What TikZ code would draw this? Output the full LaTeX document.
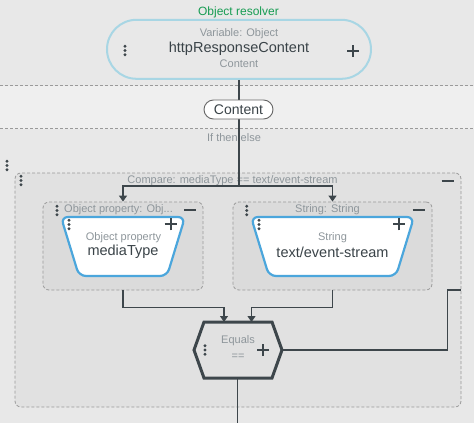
\documentclass[tikz,border=0pt]{standalone}
\usepackage{fontspec}
\setmainfont{Liberation Sans}
\usetikzlibrary{arrows.meta,shapes.misc}
\definecolor{bgmain}{HTML}{E8E8E8}
\definecolor{bgband}{HTML}{EFEFEF}
\definecolor{bgouter}{HTML}{E1E1E1}
\definecolor{bginner}{HTML}{DBDBDB}
\definecolor{txtgray}{HTML}{8E969B}
\definecolor{txtdark}{HTML}{3A4348}
\definecolor{linedark}{HTML}{3D464B}
\definecolor{resgreen}{HTML}{169C52}
\definecolor{pillblue}{HTML}{A8D6E4}
\definecolor{trapblue}{HTML}{4BA6DC}
\definecolor{dashgray}{HTML}{9A9A9A}
\tikzset{
  small/.style={font=\fontsize{11}{13}\selectfont, text=txtgray, inner sep=0pt},
  big/.style={font=\fontsize{14.5}{17}\selectfont, text=txtdark, inner sep=0pt},
  dashbox/.style={draw=dashgray, dash pattern=on 3pt off 2pt, line width=0.8pt, rounded corners=6pt},
  conn/.style={draw=linedark, line width=1.1pt},
  arr/.style={conn, -{Triangle[width=8pt,length=6pt]}},
  vdots/.pic={\fill[linedark] (0,-4.3pt) circle (1.6pt) (0,0) circle (1.6pt) (0,4.3pt) circle (1.6pt);},
  plussign/.pic={\draw[linedark, line width=2pt] (-6pt,0) -- (6pt,0) (0,-6pt) -- (0,6pt);},
  minussign/.pic={\draw[linedark, line width=2pt] (-6pt,0) -- (6pt,0);},
}
\begin{document}
\begin{tikzpicture}[x=1pt,y=-1pt]
\useasboundingbox (0,0) rectangle (474,423);
% backgrounds
\fill[bgmain] (0,0) rectangle (474,423);
\fill[bgband] (0,85.5) rectangle (474,128.5);
\draw[dashgray, dash pattern=on 3pt off 2pt, line width=0.8pt] (0,85.5) -- (474,85.5);
\draw[dashgray, dash pattern=on 3pt off 2pt, line width=0.8pt] (0,128.5) -- (474,128.5);

% outer compare box
\node[dashbox, fill=bgouter, minimum width=446pt, minimum height=234pt, inner sep=0pt] (outer) at (238,290) {};
\pic at (7,165.5) {vdots};
\pic at (21,180.5) {vdots};
\pic at (447.5,181) {minussign};
\node[small] (cmp) at (232.5,181) {Compare: mediaType == text/event-stream};

% inner boxes
\node[dashbox, fill=bginner, minimum width=160pt, minimum height=88pt, inner sep=0pt] (lbox) at (123,246) {};
\node[dashbox, fill=bginner, minimum width=199pt, minimum height=88pt, inner sep=0pt] (rbox) at (332.5,246) {};
\node[small, anchor=west] (ltitle) at (64,210) {Object property: Obj...};
\node[small] (rtitle) at (327.5,210) {String: String};
\pic at (57,210.5) {vdots};
\pic at (190,210) {minussign};
\pic at (246.7,210.5) {vdots};
\pic at (418.5,210) {minussign};

% trapezoids
\draw[trapblue, fill=white, line width=2.2pt, rounded corners=7pt] (61,217) -- (185,217) -- (167,276) -- (79,276) -- cycle;
\draw[trapblue, fill=white, line width=2.2pt, rounded corners=7pt] (251,217) -- (414,217) -- (396,276) -- (269,276) -- cycle;
\coordinate (ltrap) at (123,246);
\coordinate (rtrap) at (332.5,246);
\pic at (69,224.5) {vdots};
\pic at (170.7,224.3) {plussign};
\pic at (259,224.5) {vdots};
\pic at (399,224.3) {plussign};
\node[small] (lt1) at (123.5,237.3) {Object property};
\node[big] (lt2) at (123,252) {mediaType};
\node[small] (rt1) at (332.5,237.3) {String};
\node[big] (rt2) at (332.5,252) {text/event-stream};

% resolver pill
\node[small, text=resgreen, font=\fontsize{12}{14}\selectfont] (reslabel) at (238.5,12) {Object resolver};
\node[draw=pillblue, line width=2pt, fill=bgmain, rounded rectangle, minimum width=264pt, minimum height=59pt, inner sep=0pt] (res) at (239,49.3) {};
\node[small] (r1) at (239,34) {Variable: Object};
\node[big] (r2) at (239,49) {httpResponseContent};
\node[small] (r3) at (239,64) {Content};
\pic at (125,50.5) {vdots};
\pic at (353.3,50.7) {plussign};

% If then else
\node[small] (ite) at (234,137.5) {If then else};

% connectors from resolver
\coordinate (split) at (239,186);
\draw[conn] (res.south) -- (split);
\draw[arr] (split) -| (lbox.north);
\draw[arr] (split) -| (rbox.north);

% content pill
\node[draw=gray!80!black, line width=0.9pt, fill=white, rounded rectangle, minimum width=69pt, minimum height=19pt, inner sep=0pt, font=\fontsize{14}{16}\selectfont, text=txtdark] (cpill) at (238.5,109.5) {Content};

% hexagon
\coordinate (hexW) at (194,350);
\coordinate (hexE) at (282,350);
\coordinate (hexS) at (237.5,378);
\coordinate (hexL) at (224,322);
\coordinate (hexR) at (251.5,322);
\draw[linedark, fill=bgouter, line width=3pt, line join=miter] (hexW) -- (204,322) -- (272,322) -- (hexE) -- (272,378) -- (204,378) -- cycle;
\pic at (205,350) {vdots};
\pic at (263.3,350) {plussign};
\node[small] (eq1) at (238,341) {Equals};
\node[small] (eq2) at (238,356.5) {==};

% connectors to hexagon
\draw[arr] (lbox.south) |- (224,307.3) -- (hexL);
\draw[arr] (rbox.south) |- (251.5,307.3) -- (hexR);
\coordinate (outR) at (461,290);
\draw[conn] (hexE) -- (447.7,350) |- (outR);
\coordinate (bottomEnd) at (237.5,423);
\draw[conn] (hexS) -- (bottomEnd);
\end{tikzpicture}
\end{document}
